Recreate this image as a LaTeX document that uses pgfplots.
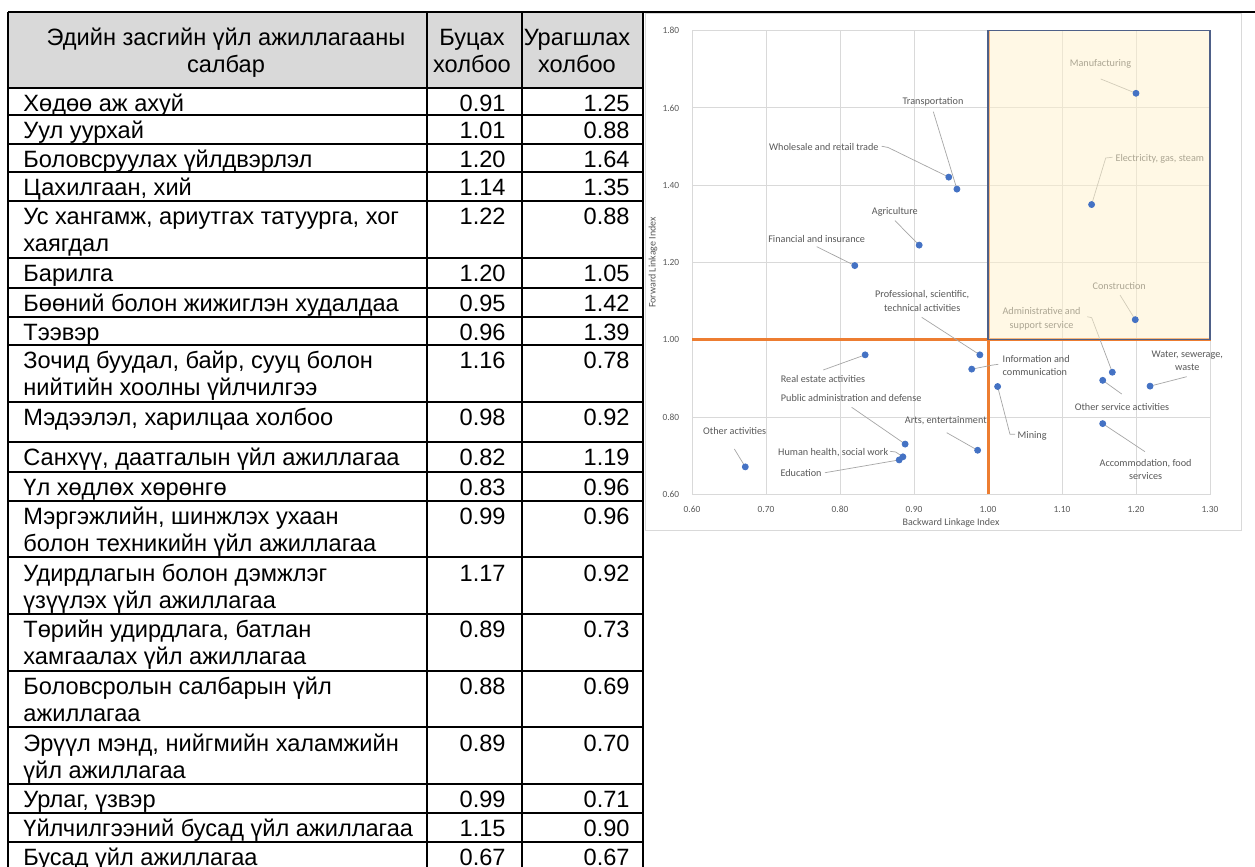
\documentclass[border=0pt]{standalone}
\usepackage{fontspec}
\setmainfont{Liberation Sans}
\newfontfamily\chartfont{Carlito}
\usepackage{pgfplots}
\usepackage{pgfplotstable}
\pgfplotsset{compat=1.18}
\definecolor{hdrgrey}{HTML}{D9D9D9}
\definecolor{gridgrey}{HTML}{D9D9D9}
\definecolor{txtgrey}{HTML}{595959}
\definecolor{leadgrey}{HTML}{A6A6A6}
\definecolor{xlorange}{HTML}{ED7D31}
\definecolor{xlblue}{HTML}{4472C4}
\definecolor{quadfill}{HTML}{FFF2CC}
\definecolor{quadline}{HTML}{4E6088}

% Backward (x) and forward (y) linkage index by sector
\pgfplotstableread{
x y
0.907 1.245
1.013 0.879
1.200 1.638
1.140 1.350
1.219 0.880
1.199 1.052
0.947 1.421
0.958 1.390
1.155 0.783
0.978 0.924
0.820 1.192
0.834 0.961
0.989 0.961
1.168 0.916
0.888 0.730
0.880 0.689
0.885 0.697
0.986 0.714
1.155 0.895
0.672 0.671
}\sectors

\tikzset{
  tcell/.style={inner sep=0pt, font=\fontsize{11.8}{13}\selectfont},
  tline/.style={black, line width=1pt},
  lbl/.style={inner sep=0pt, align=center, text=txtgrey, font=\chartfont\fontsize{5.1}{6.8}\selectfont},
  lead/.style={leadgrey, line width=0.35pt},
}
\newcommand\rowA[4]{%
  \node[tcell,anchor=base west] at (23,{#1+23.7}) {#2};
  \node[tcell,anchor=base east] at (506,{#1+23.7}) {#3};
  \node[tcell,anchor=base east] at (630,{#1+23.7}) {#4};}
\newcommand\rowB[5]{%
  \rowA{#1}{#2}{#4}{#5}%
  \node[tcell,anchor=base west] at (23,{#1+50.7}) {#3};}

\begin{document}
\begin{tikzpicture}
\useasboundingbox (0,0) rectangle (627.5pt,-433.5pt);
\clip (0,0) rectangle (627.5pt,-433.5pt);
\fill[white] (0,0) rectangle (627.5pt,-433.5pt);
\begin{scope}[x=0.5pt,y=-0.5pt]
  \fill[hdrgrey] (8,12) rectangle (643,88);
  \node[tcell, anchor=base] at (226,46) {Эдийн засгийн үйл ажиллагааны};
  \node[tcell, anchor=base] at (226,72.7) {салбар};
  \node[tcell, anchor=base] at (472,46) {Буцах};
  \node[tcell, anchor=base] at (472,72.7) {холбоо};
  \node[tcell, anchor=base] at (577,46) {Урагшлах};
  \node[tcell, anchor=base] at (577,72.7) {холбоо};
  \rowA{88}{Хөдөө аж ахуй}{0.91}{1.25}
  \rowA{115}{Уул уурхай}{1.01}{0.88}
  \rowA{144}{Боловсруулах үйлдвэрлэл}{1.20}{1.64}
  \rowA{172}{Цахилгаан, хий}{1.14}{1.35}
  \rowB{201}{Ус хангамж, ариутгах татуурга, хог}{хаягдал}{1.22}{0.88}
  \rowA{258}{Барилга}{1.20}{1.05}
  \rowA{287.5}{Бөөний болон жижиглэн худалдаа}{0.95}{1.42}
  \rowA{316.7}{Тээвэр}{0.96}{1.39}
  \rowB{345}{Зочид буудал, байр, сууц болон}{нийтийн хоолны үйлчилгээ}{1.16}{0.78}
  \rowA{401.7}{Мэдээлэл, харилцаа холбоо}{0.98}{0.92}
  \rowA{442}{Санхүү, даатгалын үйл ажиллагаа}{0.82}{1.19}
  \rowA{472}{Үл хөдлөх хөрөнгө}{0.83}{0.96}
  \rowB{500.5}{Мэргэжлийн, шинжлэх ухаан}{болон техникийн үйл ажиллагаа}{0.99}{0.96}
  \rowB{557.3}{Удирдлагын болон дэмжлэг}{үзүүлэх үйл ажиллагаа}{1.17}{0.92}
  \rowB{614}{Төрийн удирдлага, батлан}{хамгаалах үйл ажиллагаа}{0.89}{0.73}
  \rowB{670.7}{Боловсролын салбарын үйл}{ажиллагаа}{0.88}{0.69}
  \rowB{727.3}{Эрүүл мэнд, нийгмийн халамжийн}{үйл ажиллагаа}{0.89}{0.70}
  \rowA{784}{Урлаг, үзвэр}{0.99}{0.71}
  \rowA{812.7}{Үйлчилгээний бусад үйл ажиллагаа}{1.15}{0.90}
  \rowA{841.7}{Бусад үйл ажиллагаа}{0.67}{0.67}
  \foreach \yy in {88,115,144,172,201,258,287.5,316.7,345,401.7,442,472,500.5,557.3,614,670.7,727.3,784,812.7,841.7,870.5}
    \draw[tline] (8,\yy) -- (643,\yy);
  \foreach \xx in {8,427,522,643}
    \draw[tline] (\xx,12) -- (\xx,872);
  \draw[black, line width=1.3pt] (8,12) -- (1256,12);
  \filldraw[fill=white, draw=gridgrey, line width=0.5pt] (645.5,13.8) rectangle (1241.7,530);
\end{scope}

\begin{axis}[
  name=ax,
  at={(346pt,-247.15pt)}, anchor=south west,
  width=259pt, height=231.8pt, scale only axis,
  xmin=0.6, xmax=1.3, ymin=0.6, ymax=1.8,
  xtick={0.6,0.7,0.8,0.9,1.0,1.1,1.2,1.3},
  ytick={0.6,0.8,1.0,1.2,1.4,1.6,1.8},
  grid=major, grid style={gridgrey, line width=0.5pt},
  axis line style={gridgrey, line width=0.5pt},
  major tick length=0pt,
  /pgf/number format/fixed, /pgf/number format/fixed zerofill,
  /pgf/number format/precision=2, /pgf/number format/assume math mode=true,
  tick label style={font=\chartfont\fontsize{4.7}{5.5}\selectfont, text=txtgrey, inner sep=0pt},
  xticklabel style={anchor=north, yshift=-5.9pt},
  yticklabel style={anchor=east, xshift=-6.2pt},
  clip=false,
]
\addplot[draw=xlorange, line width=1.5pt] coordinates {(0.6,1.0) (1.302,1.0)};
\addplot[draw=xlorange, line width=1.5pt] coordinates {(1.0,0.6) (1.0,1.8)};
% leader lines
\draw[lead] (axis cs:0.9261,1.5904) -- (axis cs:0.958,1.390);
\draw[lead] (axis cs:0.8564,1.5009) -- (axis cs:0.8649,1.4978) -- (axis cs:0.947,1.421);
\draw[lead] (axis cs:0.8743,1.3083) -- (axis cs:0.907,1.245);
\draw[lead] (axis cs:0.7685,1.241) -- (axis cs:0.820,1.192);
\draw[lead] (axis cs:1.1523,1.6751) -- (axis cs:1.200,1.638);
\draw[lead] (axis cs:1.1685,1.4724) -- (axis cs:1.1591,1.4706) -- (axis cs:1.140,1.350);
\draw[lead] (axis cs:0.7774,0.9218) -- (axis cs:0.834,0.961);
\draw[lead] (axis cs:0.8158,0.8252) -- (axis cs:0.888,0.730);
\draw[lead] (axis cs:0.6572,0.7173) -- (axis cs:0.672,0.671);
\draw[lead] (axis cs:0.8676,0.7113) -- (axis cs:0.8753,0.7095) -- (axis cs:0.885,0.697);
\draw[lead] (axis cs:0.7797,0.6559) -- (axis cs:0.880,0.689);
\draw[lead] (axis cs:0.9104,1.0582) -- (axis cs:0.989,0.961);
\draw[lead] (axis cs:1.0139,0.9365) -- (axis cs:1.0068,0.9347) -- (axis cs:0.978,0.924);
\draw[lead] (axis cs:1.0365,0.7553) -- (axis cs:1.0297,0.7553) -- (axis cs:1.013,0.879);
\draw[lead] (axis cs:0.9442,0.7595) -- (axis cs:0.986,0.714);
\draw[lead] (axis cs:1.1784,1.1159) -- (axis cs:1.199,1.052);
\draw[lead] (axis cs:1.1342,1.0597) -- (axis cs:1.1401,1.0572) -- (axis cs:1.168,0.916);
\draw[lead] (axis cs:1.2685,0.9044) -- (axis cs:1.219,0.880);
\draw[lead] (axis cs:1.1807,0.8596) -- (axis cs:1.155,0.895);
\draw[lead] (axis cs:1.2122,0.7103) -- (axis cs:1.155,0.783);
% points
\addplot[only marks, mark=*, mark size=1.5pt, color=xlblue] table[x=x,y=y] {\sectors};
% labels
\node[lbl] at (axis cs:0.9257,1.6163) {Transportation};
\node[lbl] at (axis cs:0.7781,1.4983) {Wholesale and retail trade};
\node[lbl] at (axis cs:0.8741,1.330) {Agriculture};
\node[lbl] at (axis cs:0.7685,1.2617) {Financial and insurance};
\node[lbl] at (axis cs:1.152,1.7131) {Manufacturing};
\node[lbl] at (axis cs:1.2322,1.4688) {Electricity, gas, steam};
\node[lbl] at (axis cs:0.777,0.8977) {Real estate activities};
\node[lbl] at (axis cs:0.8151,0.8501) {Public administration and defense};
\node[lbl] at (axis cs:0.6577,0.7646) {Other activities};
\node[lbl] at (axis cs:0.7908,0.7077) {Human health, social work};
\node[lbl] at (axis cs:0.7473,0.6544) {Education};
\node[lbl] at (axis cs:0.9111,1.1009) {Professional, scientific,\\technical activities};
\node[lbl, anchor=west, align=left] at (axis cs:1.0193,0.9334) {Information and\\communication};
\node[lbl] at (axis cs:1.0597,0.7501) {Mining};
\node[lbl] at (axis cs:0.943,0.7905) {Arts, entertainment};
\node[lbl] at (axis cs:1.1773,1.1392) {Construction};
\node[lbl] at (axis cs:1.0724,1.0551) {Administrative and\\support service};
\node[lbl] at (axis cs:1.2693,0.9456) {Water, sewerage,\\waste};
\node[lbl] at (axis cs:1.1811,0.826) {Other service activities};
\node[lbl] at (axis cs:1.213,0.6642) {Accommodation, food\\services};
% high-linkage quadrant overlay
\fill[quadfill, fill opacity=0.5] (axis cs:1.0,1.0) rectangle (axis cs:1.3,1.8);
\draw[quadline, line width=0.6pt] (axis cs:1.0,1.0) rectangle (axis cs:1.3,1.8);
\end{axis}
\node[text=txtgrey, font=\chartfont\fontsize{5}{6}\selectfont, inner sep=0pt] at ([yshift=-14.2pt]ax.south) {Backward Linkage Index};
\node[text=txtgrey, font=\chartfont\fontsize{5}{6}\selectfont, inner sep=0pt, rotate=90] at ([xshift=-19.5pt]ax.west) {Forward Linkage Index};
\end{tikzpicture}
\end{document}
